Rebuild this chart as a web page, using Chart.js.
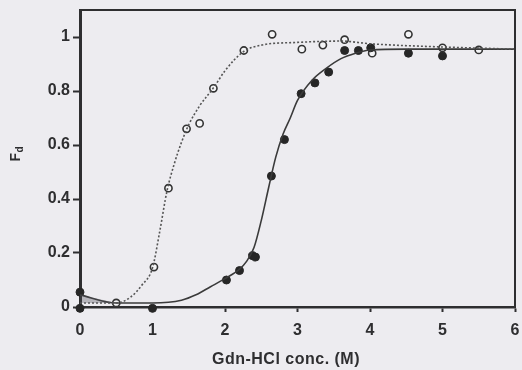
<!DOCTYPE html>
<html>
<head>
<meta charset="utf-8">
<script src="https://cdn.jsdelivr.net/npm/chart.js@4/dist/chart.umd.min.js"></script>
<style>
  html, body { margin: 0; padding: 0; background: #edecf0; }
  #wrap { width: 522px; height: 370px; }
</style>
</head>
<body>
<div id="wrap"><canvas id="chart" width="522" height="370"></canvas></div>
<script>
const xTicks = [0, 1, 2, 3, 4, 5, 6];
const yTicks = [0, 0.2, 0.4, 0.6, 0.8, 1];
const xLabel = "Gdn-HCl conc. (M)";

// open circles (dotted fit)
const openX = [0.5, 1.02, 1.22, 1.47, 1.65, 1.84, 2.26, 2.65, 3.06, 3.35, 3.65, 4.03, 4.53, 5.0, 5.5];
const openY = [0.015, 0.148, 0.44, 0.66, 0.68, 0.81, 0.95, 1.01, 0.955, 0.97, 0.99, 0.94, 1.01, 0.96, 0.952];

// filled circles (solid fit)
const filledX = [0, 0, 1.0, 2.02, 2.2, 2.38, 2.42, 2.64, 2.82, 3.05, 3.24, 3.43, 3.65, 3.84, 4.01, 4.53, 5.0];
const filledY = [0.055, -0.005, -0.005, 0.10, 0.135, 0.19, 0.185, 0.485, 0.62, 0.79, 0.83, 0.87, 0.95, 0.95, 0.96, 0.94, 0.93];

// fitted curves
const solidX = [0, 0.5, 1, 1.4, 1.6, 1.8, 2.0, 2.2, 2.3, 2.4, 2.5, 2.6, 2.7, 2.8, 2.9, 3.0, 3.2, 3.4, 3.6, 3.8, 4.0, 4.5, 5, 6];
const solidY = [0.045, 0.015, 0.015, 0.025, 0.045, 0.075, 0.105, 0.14, 0.17, 0.22, 0.32, 0.44, 0.555, 0.64, 0.70, 0.765, 0.84, 0.885, 0.92, 0.94, 0.952, 0.955, 0.955, 0.955];

const dotX = [0, 0.5, 0.7, 0.85, 1.0, 1.1, 1.2, 1.3, 1.4, 1.5, 1.65, 1.85, 2.0, 2.25, 2.5, 3.0, 3.6, 4.0, 5.0, 6.0];
const dotY = [0.015, 0.015, 0.037, 0.08, 0.145, 0.28, 0.43, 0.53, 0.61, 0.675, 0.745, 0.815, 0.875, 0.945, 0.97, 0.98, 0.985, 0.975, 0.963, 0.955];

// small hatched wedge near the origin
const hatchX = [0, 0.5];
const hatchY = [0.045, 0.015];

const ink = "#2e2e30";
const fontFamily = "'Liberation Sans', Arial, Helvetica, sans-serif";

const pts = (xs, ys) => xs.map((x, i) => ({ x, y: ys[i] }));

const decor = {
  id: "decor",
  afterDraw(chart) {
    const { ctx, chartArea: a } = chart;
    ctx.save();
    ctx.strokeStyle = ink;
    ctx.lineWidth = 2;
    ctx.beginPath();
    ctx.moveTo(a.left, a.top);
    ctx.lineTo(a.right, a.top);
    ctx.lineTo(a.right, a.bottom);
    ctx.stroke();

    ctx.fillStyle = ink;
    ctx.font = `bold 16px ${fontFamily}`;
    ctx.textAlign = "center";
    ctx.textBaseline = "middle";
    ctx.letterSpacing = "0.5px";
    ctx.fillText(xLabel, 286, 360);
    ctx.letterSpacing = "0px";

    ctx.translate(16.5, 157);
    ctx.rotate(-Math.PI / 2);
    ctx.font = `bold 14px ${fontFamily}`;
    ctx.textAlign = "right";
    ctx.fillText("F", 4, 0);
    ctx.font = `bold 10px ${fontFamily}`;
    ctx.textAlign = "left";
    ctx.fillText("d", 4.5, 4);
    ctx.restore();
  },
};

new Chart(document.getElementById("chart"), {
  type: "scatter",
  data: {
    datasets: [
      {
        data: pts(hatchX, hatchY),
        showLine: true,
        borderWidth: 0,
        pointRadius: 0,
        fill: { value: 0.015 },
        backgroundColor: "rgba(80,80,90,0.35)",
        clip: false,
      },
      {
        data: pts(dotX, dotY),
        showLine: true,
        borderColor: "#555",
        borderWidth: 1.6,
        borderDash: [2, 2],
        cubicInterpolationMode: "monotone",
        pointRadius: 0,
        clip: false,
      },
      {
        data: pts(solidX, solidY),
        showLine: true,
        borderColor: "#3a3a3a",
        borderWidth: 1.6,
        cubicInterpolationMode: "monotone",
        pointRadius: 0,
        clip: false,
      },
      {
        data: pts(filledX, filledY),
        pointRadius: 4,
        pointBackgroundColor: "#262626",
        pointBorderColor: "#262626",
        pointBorderWidth: 1,
        clip: false,
      },
      {
        data: pts(openX, openY),
        pointRadius: 3.6,
        pointBackgroundColor: "#f4f4f6",
        pointBorderColor: "#333",
        pointBorderWidth: 1.6,
        clip: false,
      },
    ],
  },
  options: {
    responsive: false,
    animation: false,
    devicePixelRatio: 1,
    layout: { padding: { top: 10, right: 7, left: 0, bottom: 0 } },
    plugins: { legend: { display: false }, tooltip: { enabled: false } },
    scales: {
      x: {
        type: "linear",
        min: 0,
        max: 6,
        afterFit: (s) => { s.height = 63; s.paddingLeft = 0; s.paddingRight = 0; },
        afterBuildTicks: (s) => { s.ticks = xTicks.map((v) => ({ value: v })); },
        grid: { drawOnChartArea: false, tickLength: 5, tickWidth: 2, color: ink },
        border: { display: true, width: 2.5, color: ink },
        ticks: {
          color: ink,
          padding: 9,
          maxRotation: 0,
          font: { family: fontFamily, size: 16, weight: "bold" },
          callback: (v) => String(v),
        },
      },
      y: {
        type: "linear",
        min: 0,
        max: 1.1,
        afterFit: (s) => { s.width = 80; s.paddingTop = 0; s.paddingBottom = 0; },
        afterBuildTicks: (s) => { s.ticks = yTicks.map((v) => ({ value: v })); },
        grid: { drawOnChartArea: false, tickLength: 7, tickWidth: 2, color: ink },
        border: { display: true, width: 3, color: ink },
        ticks: {
          color: ink,
          padding: 3,
          font: { family: fontFamily, size: 16, weight: "bold" },
          callback: (v) => String(+v.toFixed(1)),
        },
      },
    },
  },
  plugins: [decor],
});
</script>
</body>
</html>
